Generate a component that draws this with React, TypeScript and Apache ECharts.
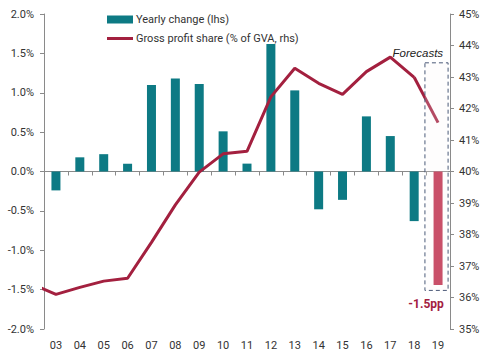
import React, { useEffect, useRef } from "react";
import * as echarts from "echarts";

const categories = ["03", "04", "05", "06", "07", "08", "09", "10", "11", "12", "13", "14", "15", "16", "17", "18", "19"];
const yearlyChange = [-0.24, 0.18, 0.22, 0.1, 1.1, 1.18, 1.11, 0.51, 0.1, 1.62, 1.03, -0.48, -0.36, 0.7, 0.45, -0.63, -1.44];
const profitYears = [2002, 2003, 2004, 2005, 2006, 2007, 2008, 2009, 2010, 2011, 2012, 2013, 2014, 2015, 2016, 2017, 2018];
const profitShare = [36.42, 36.1, 36.32, 36.52, 36.61, 37.75, 38.94, 39.98, 40.56, 40.64, 42.37, 43.28, 42.8, 42.45, 43.17, 43.63, 42.99];
const forecastYears = [2018, 2019];
const forecastShare = [42.99, 41.55];
const leftTicks = { min: -2, max: 2, interval: 0.5 };
const rightTicks = { min: 35, max: 45, interval: 1 };
const forecastBox = { from: 2018.45, to: 2019.42, top: 1.38, bottom: -1.51 };
const forecastLabel = "-1.5pp";
const forecastTitle = "Forecasts";

const FONT = "Roboto, 'Liberation Sans', Arial, sans-serif";
const TEAL = "#0D7A84";
const CRIMSON = "#A3203F";
const FORECAST_BAR = "#BD2747";
const AXIS = "#8a8a8a";
const TXT = "#333333";

export default function App() {
  const ref = useRef<HTMLDivElement>(null);
  useEffect(() => {
    if (!ref.current) return;
    const chart = echarts.init(ref.current, undefined, { renderer: "svg" });
    const last = categories.length - 1;
    chart.setOption({
      animation: false,
      textStyle: { fontFamily: FONT },
      grid: { left: 44, right: 37, top: 14, bottom: 34 },
      legend: {
        orient: "vertical",
        left: 102,
        top: 9,
        itemWidth: 26,
        itemHeight: 8,
        itemGap: 8,
        data: [
          { name: "Yearly change (lhs)", icon: "rect" },
          { name: "Gross profit share (% of GVA, rhs)", icon: "path://M0,0 L26,0 L26,3 L0,3 Z" },
        ],
        textStyle: { fontFamily: FONT, fontSize: 11, color: TXT, padding: [0, 0, 0, -2] },
      },
      xAxis: [
        {
          type: "category",
          data: categories,
          position: "bottom",
          axisLine: { show: false },
          axisTick: { show: false },
          axisLabel: { color: TXT, fontSize: 11, fontFamily: FONT, margin: 11 },
        },
        {
          type: "category",
          data: categories,
          position: "bottom",
          axisLine: { show: true, onZero: true, onZeroAxisIndex: 0, lineStyle: { color: AXIS } },
          axisTick: { show: true, length: 4, lineStyle: { color: AXIS } },
          axisLabel: { show: false },
        },
        {
          type: "value",
          min: 2002.5,
          max: 2019.5,
          show: false,
        },
      ],
      yAxis: [
        {
          type: "value",
          ...leftTicks,
          position: "left",
          axisLine: { show: true, lineStyle: { color: AXIS } },
          axisTick: { show: true, length: 4, lineStyle: { color: AXIS } },
          splitLine: { show: false },
          axisLabel: {
            color: TXT,
            fontSize: 11,
            fontFamily: FONT,
            margin: 10,
            formatter: (v: number) => v.toFixed(1) + "%",
          },
        },
        {
          type: "value",
          ...rightTicks,
          position: "right",
          axisLine: { show: true, lineStyle: { color: AXIS } },
          axisTick: { show: true, length: 4, lineStyle: { color: AXIS } },
          splitLine: { show: false },
          axisLabel: {
            color: TXT,
            fontSize: 11,
            fontFamily: FONT,
            margin: 9,
            formatter: (v: number) => v + "%",
          },
        },
      ],
      series: [
        {
          name: "Yearly change (lhs)",
          type: "bar",
          xAxisIndex: 0,
          yAxisIndex: 0,
          barWidth: 9,
          itemStyle: { color: TEAL },
          data: yearlyChange.map((v, i) =>
            i === last
              ? {
                  value: v,
                  itemStyle: { color: FORECAST_BAR },
                  label: {
                    show: true,
                    position: "bottom",
                    distance: 13,
                    offset: [-12, 0],
                    formatter: forecastLabel,
                    color: CRIMSON,
                    fontWeight: "bold",
                    fontSize: 12,
                    fontFamily: FONT,
                  },
                }
              : v
          ),
          z: 2,
        },
        {
          name: "Gross profit share (% of GVA, rhs)",
          type: "line",
          xAxisIndex: 2,
          yAxisIndex: 1,
          symbol: "none",
          lineStyle: { color: CRIMSON, width: 3 },
          itemStyle: { color: CRIMSON },
          data: profitYears.map((y, i) => [y, profitShare[i]]),
          z: 3,
        },
        {
          name: "forecast",
          type: "line",
          xAxisIndex: 2,
          yAxisIndex: 1,
          symbol: "none",
          lineStyle: { color: CRIMSON, width: 3 },
          data: forecastYears.map((y, i) => [y, forecastShare[i]]),
          z: 3,
        },
      ],
    });

    const p1 = chart.convertToPixel({ xAxisIndex: 2, yAxisIndex: 0 }, [forecastBox.from, forecastBox.top]) as number[];
    const p2 = chart.convertToPixel({ xAxisIndex: 2, yAxisIndex: 0 }, [forecastBox.to, forecastBox.bottom]) as number[];
    chart.setOption({
      graphic: [
        {
          type: "rect",
          z: 100,
          silent: true,
          shape: { x: p1[0], y: p1[1], width: p2[0] - p1[0], height: p2[1] - p1[1] },
          style: {
            fill: "rgba(250,244,246,0.2)",
            stroke: "#4B5A78",
            lineWidth: 1,
            lineDash: [4, 3],
          },
        },
        {
          type: "text",
          z: 100,
          silent: true,
          x: p2[0] - 5,
          y: p1[1] - 4,
          style: {
            text: forecastTitle,
            align: "right",
            verticalAlign: "bottom",
            font: "italic 11.5px 'Liberation Sans', Arial, sans-serif",
            fill: "#222",
          },
        },
      ],
    });
    return () => chart.dispose();
  }, []);
  return <div ref={ref} style={{ width: 487, height: 363, position: "absolute", left: 0, top: 0 }} />;
}
